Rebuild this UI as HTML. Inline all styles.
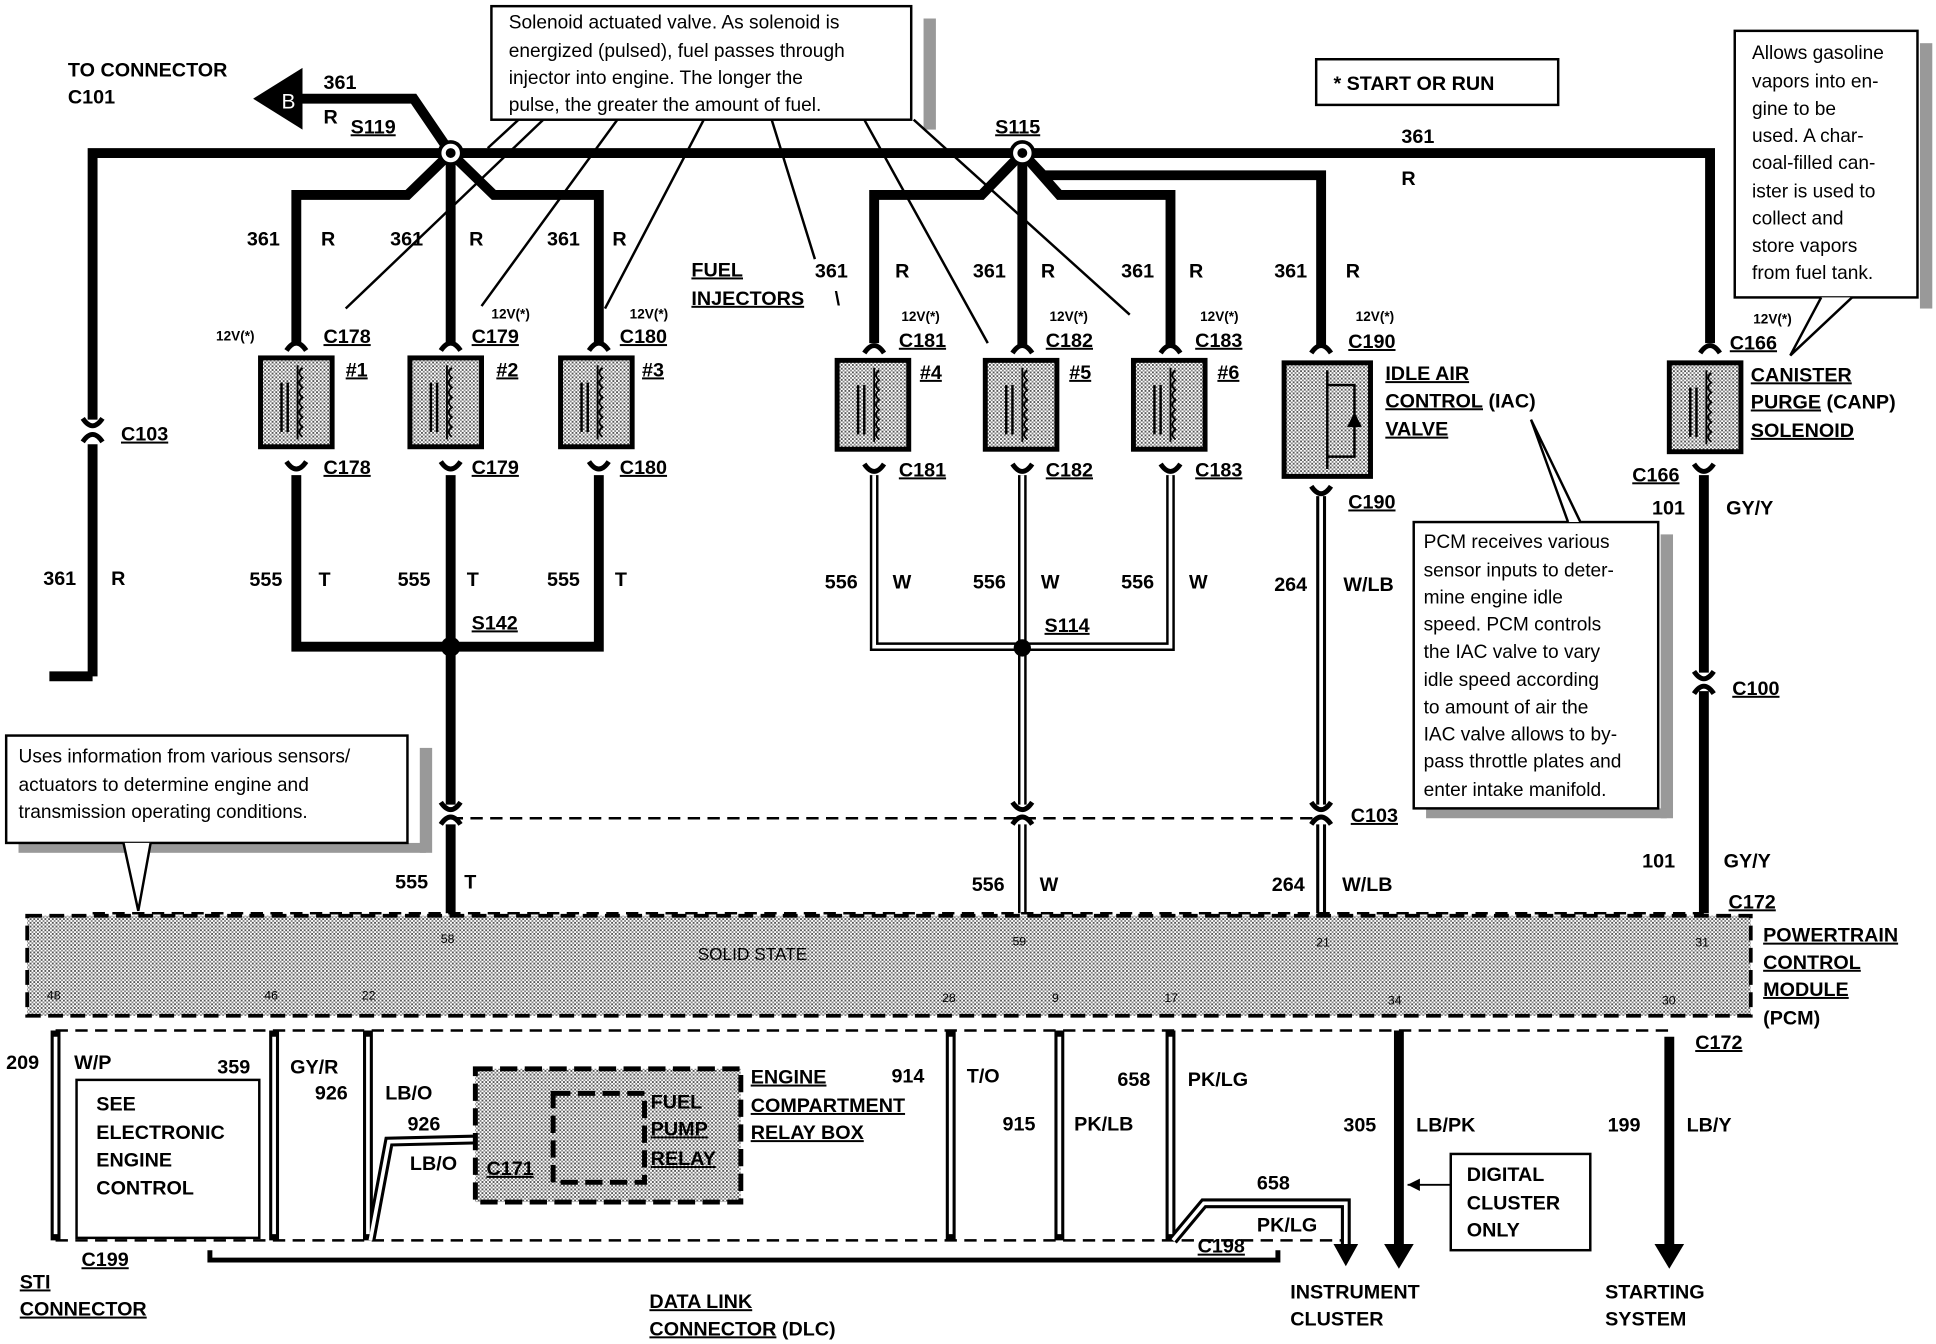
<!DOCTYPE html>
<html><head><meta charset="utf-8"><style>
html,body{margin:0;padding:0;background:#fff;width:1936px;height:1344px;overflow:hidden}
svg{display:block}
text{font-family:"Liberation Sans",sans-serif;font-weight:bold;fill:#000}
.l{font-size:16px}
.s{font-size:11px}
.n{font-size:15.5px;font-weight:normal}
.p{font-size:10px;font-weight:normal}
</style></head><body>
<svg width="1936" height="1344" viewBox="0 0 1568 1089" preserveAspectRatio="none" xmlns="http://www.w3.org/2000/svg">
<defs>
<pattern id="st" width="3" height="3" patternUnits="userSpaceOnUse"><rect width="3" height="3" fill="#fff"/><rect width="1.5" height="1.5" fill="#555"/><rect x="1.5" y="1.5" width="1.5" height="1.5" fill="#888"/></pattern>
<g id="inj">
<rect x="0" y="0" width="58" height="72" fill="url(#st)" stroke="#000" stroke-width="4"/>
<line x1="17" y1="20" x2="17" y2="60" stroke="#000" stroke-width="2"/><line x1="22" y1="20" x2="22" y2="60" stroke="#000" stroke-width="2"/>
<path d="M30 6 L30 66 M34 8 q-5 4 0 8 q-5 4 0 8 q-5 4 0 8 q-5 4 0 8 q-5 4 0 8 q-5 4 0 8 q-5 4 0 8" stroke="#000" fill="none" stroke-width="1.5"/>
</g>
<g id="cu"><path d="M-8 6 Q0 -6 8 6" stroke="#000" stroke-width="4" fill="none"/></g>
<g id="cd"><path d="M-8 -6 Q0 6 8 -6" stroke="#000" stroke-width="4" fill="none"/></g>
</defs>
<g stroke="#000" fill="none" stroke-linecap="butt">
<path d="M75 548 L75 124 L1385 124 L1385 278" stroke-width="8"/>
<line x1="40" y1="548" x2="75" y2="548" stroke-width="8"/>
<path d="M365 124 L335 80 L245 80" stroke-width="8"/>
<path d="M365 124 L330 158 L240 158 L240 278" stroke-width="8"/>
<line x1="365" y1="124" x2="365" y2="278" stroke-width="8"/>
<path d="M365 124 L400 158 L485 158 L485 278" stroke-width="8"/>
<path d="M828 124 L795 158 L708 158 L708 278" stroke-width="8"/>
<line x1="828" y1="124" x2="828" y2="280" stroke-width="8"/>
<path d="M828 124 L858 158 L948 158 L948 280" stroke-width="8"/>
<path d="M828 124 L845 142 L1070 142 L1070 280" stroke-width="8"/>
<path d="M240 385 L240 524 L485 524 L485 385" stroke-width="8"/>
<line x1="365" y1="385" x2="365" y2="740" stroke-width="8"/>
<path d="M708 385 L708 524 L948 524 L948 385" stroke-width="7"/>
<path d="M708 385 L708 524 L948 524 L948 385" stroke-width="3" stroke="#fff"/>
<line x1="828" y1="385" x2="828" y2="740" stroke-width="7"/>
<line x1="828" y1="385" x2="828" y2="740" stroke-width="3" stroke="#fff"/>
<line x1="1070" y1="402" x2="1070" y2="740" stroke-width="8"/>
<line x1="1070" y1="402" x2="1070" y2="740" stroke-width="3" stroke="#fff"/>
<line x1="1380" y1="385" x2="1380" y2="740" stroke-width="8"/>
<line x1="75" y1="340" x2="75" y2="360" stroke="#fff" stroke-width="10"/>
<line x1="365" y1="652" x2="365" y2="668" stroke="#fff" stroke-width="10"/>
<line x1="828" y1="652" x2="828" y2="668" stroke="#fff" stroke-width="10"/>
<line x1="1070" y1="652" x2="1070" y2="668" stroke="#fff" stroke-width="10"/>
<line x1="1380" y1="545" x2="1380" y2="560" stroke="#fff" stroke-width="10"/>
<line x1="365" y1="663" x2="1070" y2="663" stroke-width="2" stroke-dasharray="10 6"/>
<line x1="75" y1="740" x2="1380" y2="740" stroke-width="2" stroke-dasharray="10 6"/>
</g>
<use href="#cu" x="75" y="352"/><use href="#cd" x="75" y="345"/>
<use href="#cu" x="365" y="662"/><use href="#cd" x="365" y="656"/>
<use href="#cu" x="828" y="662"/><use href="#cd" x="828" y="656"/>
<use href="#cu" x="1070" y="662"/><use href="#cd" x="1070" y="656"/>
<use href="#cu" x="1380" y="556"/><use href="#cd" x="1380" y="550"/>
<polygon points="205,80 245,55 245,105" fill="#000"/>
<text x="228" y="88" font-size="17" style="fill:#fff;font-weight:normal">B</text>
<circle cx="365" cy="124" r="9" fill="#fff" stroke="#000" stroke-width="3"/><circle cx="365" cy="124" r="4" fill="#000"/>
<circle cx="828" cy="124" r="9" fill="#fff" stroke="#000" stroke-width="3"/><circle cx="828" cy="124" r="4" fill="#000"/>
<circle cx="365" cy="524" r="8" fill="#000"/><circle cx="828" cy="525" r="7" fill="#000"/>
<use href="#inj" x="211" y="290"/><use href="#inj" x="332" y="290"/><use href="#inj" x="454" y="290"/>
<use href="#inj" x="678" y="292"/><use href="#inj" x="798" y="292"/><use href="#inj" x="918" y="292"/>
<use href="#inj" x="1352" y="294"/>
<rect x="1040" y="294" width="70" height="92" fill="url(#st)" stroke="#000" stroke-width="4"/>
<path d="M1075 300 v80 M1075 312 h22 v58 h-22" stroke="#000" stroke-width="2" fill="none"/>
<polygon points="1097,334 1091,346 1103,346" fill="#000"/>
<g fill="#000">
<use href="#cu" x="240" y="278"/><use href="#cu" x="365" y="278"/><use href="#cu" x="485" y="278"/>
<use href="#cu" x="708" y="280"/><use href="#cu" x="828" y="280"/><use href="#cu" x="948" y="280"/>
<use href="#cu" x="1070" y="280"/><use href="#cu" x="1385" y="280"/>
<use href="#cd" x="240" y="380"/><use href="#cd" x="365" y="380"/><use href="#cd" x="485" y="380"/>
<use href="#cd" x="708" y="382"/><use href="#cd" x="828" y="382"/><use href="#cd" x="948" y="382"/>
<use href="#cd" x="1070" y="400"/><use href="#cd" x="1380" y="382"/>
</g>
<rect x="22" y="742" width="1396" height="81" fill="url(#st)" stroke="#000" stroke-width="3" stroke-dasharray="12 6"/>
<text x="565" y="778" class="n" style="font-size:14px">SOLID STATE</text>
<g class="p"><text x="357" y="764" class="p">58</text><text x="820" y="766" class="p">59</text><text x="1066" y="767" class="p">21</text><text x="1373" y="767" class="p">31</text>
<text x="38" y="810" class="p">48</text><text x="214" y="810" class="p">46</text><text x="293" y="810" class="p">22</text><text x="763" y="812" class="p">28</text><text x="852" y="812" class="p">9</text><text x="943" y="812" class="p">17</text><text x="1124" y="814" class="p">34</text><text x="1346" y="814" class="p">30</text></g>
<g stroke="#000" fill="none">
<line x1="45" y1="835" x2="1352" y2="835" stroke-width="2" stroke-dasharray="10 6"/>
<line x1="45" y1="1005" x2="1090" y2="1005" stroke-width="2" stroke-dasharray="10 6"/>
<g stroke-width="8"><line x1="45" y1="835" x2="45" y2="1005"/><line x1="222" y1="835" x2="222" y2="1005"/><line x1="298" y1="835" x2="298" y2="1005"/><line x1="770" y1="835" x2="770" y2="1005"/><line x1="858" y1="835" x2="858" y2="1005"/><line x1="948" y1="835" x2="948" y2="1005"/><path d="M300 1005 L315 925 L440 922"/><path d="M950 1005 L975 975 L1090 975 L1090 1010"/></g>
<g stroke-width="3" stroke="#fff"><line x1="45" y1="840" x2="45" y2="1000"/><line x1="222" y1="840" x2="222" y2="1000"/><line x1="298" y1="840" x2="298" y2="1000"/><line x1="770" y1="840" x2="770" y2="1000"/><line x1="858" y1="840" x2="858" y2="1000"/><line x1="948" y1="840" x2="948" y2="1000"/><path d="M300 1005 L315 925 L440 922"/><path d="M950 1005 L975 975 L1090 975 L1090 1010"/></g>
<line x1="1133" y1="835" x2="1133" y2="1010" stroke-width="8"/>
<line x1="1352" y1="840" x2="1352" y2="1010" stroke-width="8"/>
<path d="M170 1013 L170 1021 L1035 1021 L1035 1013" stroke-width="4"/>
<line x1="1175" y1="960" x2="1140" y2="960" stroke-width="1.5"/>
</g>
<polygon points="1121,1008 1145,1008 1133,1028" fill="#000"/>
<polygon points="1340,1008 1364,1008 1352,1028" fill="#000"/>
<polygon points="1080,1008 1100,1008 1090,1026" fill="#000"/>
<polygon points="1140,960 1150,955 1150,965" fill="#000"/>
<rect x="385" y="866" width="215" height="108" fill="url(#st)" stroke="#000" stroke-width="4" stroke-dasharray="14 6"/>
<rect x="448" y="886" width="74" height="72" fill="none" stroke="#000" stroke-width="4" stroke-dasharray="14 6"/>
<g fill="#999"><rect x="748" y="15" width="10" height="90"/><rect x="1555" y="35" width="10" height="215"/><rect x="340" y="606" width="10" height="85"/><rect x="1345" y="433" width="10" height="230"/><rect x="15" y="683" width="330" height="8"/><rect x="1155" y="655" width="195" height="8"/></g>
<g fill="#fff" stroke="#000" stroke-width="2">
<rect x="398" y="5" width="340" height="92"/>
<rect x="1066" y="48" width="196" height="37"/>
<rect x="1405" y="25" width="148" height="216"/>
<rect x="5" y="596" width="325" height="87"/>
<rect x="1145" y="423" width="198" height="232"/>
<rect x="62" y="875" width="148" height="128"/>
<rect x="1175" y="935" width="113" height="78"/>
<path d="M100 683 L112 738 L122 683" />
<path d="M1475 241 L1450 288 L1500 241"/>
<path d="M1270 423 L1240 340 L1280 423"/>
<path d="M420 97 L395 120 M440 97 L280 250 M500 97 L390 248 M570 97 L490 250 M625 97 L660 210 M700 97 L800 278 M740 97 L915 255"/>
</g>
<g class="n">
<text x="412" y="23" class="n">Solenoid actuated valve.  As solenoid is</text>
<text x="412" y="46" class="n">energized (pulsed), fuel passes through</text>
<text x="412" y="68" class="n">injector into engine.  The longer the</text>
<text x="412" y="90" class="n">pulse, the greater the amount of fuel.</text>
<text x="1419" y="48" class="n">Allows gasoline</text><text x="1419" y="71" class="n">vapors into en-</text><text x="1419" y="93" class="n">gine to be</text><text x="1419" y="115" class="n">used.  A char-</text><text x="1419" y="137" class="n">coal-filled can-</text><text x="1419" y="160" class="n">ister is used to</text><text x="1419" y="182" class="n">collect and</text><text x="1419" y="204" class="n">store vapors</text><text x="1419" y="226" class="n">from fuel tank.</text>
<text x="15" y="618" class="n">Uses information from various sensors/</text><text x="15" y="641" class="n">actuators to determine engine and</text><text x="15" y="663" class="n">transmission operating conditions.</text>
<text x="1153" y="444" class="n">PCM receives various</text><text x="1153" y="467" class="n">sensor inputs to deter-</text><text x="1153" y="489" class="n">mine engine idle</text><text x="1153" y="511" class="n">speed.  PCM controls</text><text x="1153" y="533" class="n">the IAC valve to vary</text><text x="1153" y="556" class="n">idle speed according</text><text x="1153" y="578" class="n">to amount of air the</text><text x="1153" y="600" class="n">IAC valve allows to by-</text><text x="1153" y="622" class="n">pass throttle plates and</text><text x="1153" y="645" class="n">enter intake manifold.</text>
</g>
<g class="l">
<text x="1080" y="73">* START OR RUN</text>
<text x="55" y="62">TO CONNECTOR</text><text x="55" y="84">C101</text>
<text x="262" y="72">361</text><text x="262" y="100">R</text><text x="284" y="108" text-decoration="underline">S119</text>
<text x="806" y="108" text-decoration="underline">S115</text>
<text x="1135" y="116">361</text><text x="1135" y="150">R</text>
<text x="200" y="199">361</text><text x="260" y="199">R</text><text x="316" y="199">361</text><text x="380" y="199">R</text><text x="443" y="199">361</text><text x="496" y="199">R</text>
<text x="660" y="225">361</text><text x="725" y="225">R</text><text x="788" y="225">361</text><text x="843" y="225">R</text><text x="908" y="225">361</text><text x="963" y="225">R</text><text x="1032" y="225">361</text><text x="1090" y="225">R</text>
<text x="560" y="224" text-decoration="underline">FUEL</text><text x="560" y="247" text-decoration="underline">INJECTORS</text><text x="676" y="247">\</text>
<text x="262" y="278" text-decoration="underline">C178</text><text x="382" y="278" text-decoration="underline">C179</text><text x="502" y="278" text-decoration="underline">C180</text>
<text x="728" y="281" text-decoration="underline">C181</text><text x="847" y="281" text-decoration="underline">C182</text><text x="968" y="281" text-decoration="underline">C183</text><text x="1092" y="282" text-decoration="underline">C190</text><text x="1401" y="283" text-decoration="underline">C166</text>
<text x="280" y="305" text-decoration="underline">#1</text><text x="402" y="305" text-decoration="underline">#2</text><text x="520" y="305" text-decoration="underline">#3</text>
<text x="745" y="307" text-decoration="underline">#4</text><text x="866" y="307" text-decoration="underline">#5</text><text x="986" y="307" text-decoration="underline">#6</text>
<text x="1122" y="308" text-decoration="underline">IDLE AIR</text><text x="1122" y="330"><tspan text-decoration="underline">CONTROL</tspan> (IAC)</text><text x="1122" y="353" text-decoration="underline">VALVE</text>
<text x="1418" y="309" text-decoration="underline">CANISTER</text><text x="1418" y="331"><tspan text-decoration="underline">PURGE</tspan> (CANP)</text><text x="1418" y="354" text-decoration="underline">SOLENOID</text>
<text x="98" y="357" text-decoration="underline">C103</text>
<text x="262" y="384" text-decoration="underline">C178</text><text x="382" y="384" text-decoration="underline">C179</text><text x="502" y="384" text-decoration="underline">C180</text>
<text x="728" y="386" text-decoration="underline">C181</text><text x="847" y="386" text-decoration="underline">C182</text><text x="968" y="386" text-decoration="underline">C183</text>
<text x="1092" y="412" text-decoration="underline">C190</text><text x="1322" y="390" text-decoration="underline">C166</text>
<text x="1338" y="417">101</text><text x="1398" y="417">GY/Y</text>
<text x="35" y="474">361</text><text x="90" y="474">R</text>
<text x="202" y="475">555</text><text x="258" y="475">T</text><text x="322" y="475">555</text><text x="378" y="475">T</text><text x="443" y="475">555</text><text x="498" y="475">T</text>
<text x="668" y="477">556</text><text x="723" y="477">W</text><text x="788" y="477">556</text><text x="843" y="477">W</text><text x="908" y="477">556</text><text x="963" y="477">W</text>
<text x="1032" y="479">264</text><text x="1088" y="479">W/LB</text>
<text x="382" y="510" text-decoration="underline">S142</text><text x="846" y="512" text-decoration="underline">S114</text>
<text x="1403" y="563" text-decoration="underline">C100</text>
<text x="1094" y="666" text-decoration="underline">C103</text>
<text x="320" y="720">555</text><text x="376" y="720">T</text><text x="787" y="722">556</text><text x="842" y="722">W</text><text x="1030" y="722">264</text><text x="1087" y="722">W/LB</text>
<text x="1330" y="703">101</text><text x="1396" y="703">GY/Y</text><text x="1400" y="736" text-decoration="underline">C172</text>
<text x="1428" y="763" text-decoration="underline">POWERTRAIN</text><text x="1428" y="785" text-decoration="underline">CONTROL</text><text x="1428" y="807" text-decoration="underline">MODULE</text><text x="1428" y="830">(PCM)</text>
<text x="1373" y="850" text-decoration="underline">C172</text>
<text x="5" y="866">209</text><text x="60" y="866">W/P</text><text x="176" y="870">359</text><text x="235" y="870">GY/R</text><text x="255" y="891">926</text><text x="312" y="891">LB/O</text>
<text x="330" y="916">926</text><text x="332" y="948">LB/O</text><text x="394" y="952" text-decoration="underline">C171</text>
<text x="527" y="898">FUEL</text><text x="527" y="920" text-decoration="underline">PUMP</text><text x="527" y="944" text-decoration="underline">RELAY</text>
<text x="608" y="878" text-decoration="underline">ENGINE</text><text x="608" y="901" text-decoration="underline">COMPARTMENT</text><text x="608" y="923" text-decoration="underline">RELAY BOX</text>
<text x="722" y="877">914</text><text x="783" y="877">T/O</text><text x="812" y="916">915</text><text x="870" y="916">PK/LB</text><text x="905" y="880">658</text><text x="962" y="880">PK/LG</text>
<text x="1018" y="964">658</text><text x="1018" y="998">PK/LG</text><text x="970" y="1015" text-decoration="underline">C198</text>
<text x="1088" y="917">305</text><text x="1147" y="917">LB/PK</text><text x="1302" y="917">199</text><text x="1366" y="917">LB/Y</text>
<text x="78" y="900">SEE</text><text x="78" y="923">ELECTRONIC</text><text x="78" y="945">ENGINE</text><text x="78" y="968">CONTROL</text>
<text x="1188" y="957">DIGITAL</text><text x="1188" y="980">CLUSTER</text><text x="1188" y="1002">ONLY</text>
<text x="66" y="1026" text-decoration="underline">C199</text>
<text x="16" y="1044" text-decoration="underline">STI</text><text x="16" y="1066" text-decoration="underline">CONNECTOR</text>
<text x="526" y="1060" text-decoration="underline">DATA LINK</text><text x="526" y="1082"><tspan text-decoration="underline">CONNECTOR</tspan> (DLC)</text>
<text x="1045" y="1052">INSTRUMENT</text><text x="1045" y="1074">CLUSTER</text>
<text x="1300" y="1052">STARTING</text><text x="1300" y="1074">SYSTEM</text>
</g>
<g class="s">
<text x="175" y="276">12V(*)</text><text x="398" y="258">12V(*)</text><text x="510" y="258">12V(*)</text>
<text x="730" y="260">12V(*)</text><text x="850" y="260">12V(*)</text><text x="972" y="260">12V(*)</text><text x="1098" y="260">12V(*)</text><text x="1420" y="262">12V(*)</text>
</g>
</svg>
</body></html>
